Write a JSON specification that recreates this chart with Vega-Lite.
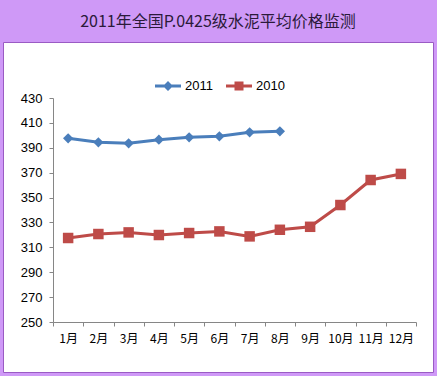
{
  "$schema": "https://vega.github.io/schema/vega-lite/v6.json",
  "width": 430,
  "height": 330,
  "padding": {"left": 3, "top": 14, "right": 4, "bottom": 4},
  "background": "#CF99F7",
  "title": {
    "text": "2011年全国P.0425级水泥平均价格监测",
    "font": "Noto Sans CJK SC",
    "fontSize": 16,
    "fontWeight": "normal",
    "color": "#2B1A3A",
    "anchor": "middle",
    "offset": 12
  },
  "config": {
    "view": {"fill": "white", "stroke": "#9A5BC4", "strokeWidth": 1}
  },
  "data": {
    "values": [
      {"month": "1月", "series": "2011", "price": 397.6},
      {"month": "2月", "series": "2011", "price": 394.4},
      {"month": "3月", "series": "2011", "price": 393.6},
      {"month": "4月", "series": "2011", "price": 396.5},
      {"month": "5月", "series": "2011", "price": 398.4},
      {"month": "6月", "series": "2011", "price": 399.2},
      {"month": "7月", "series": "2011", "price": 402.4},
      {"month": "8月", "series": "2011", "price": 403.2},
      {"month": "1月", "series": "2010", "price": 317.5},
      {"month": "2月", "series": "2010", "price": 320.7},
      {"month": "3月", "series": "2010", "price": 322.0},
      {"month": "4月", "series": "2010", "price": 319.9},
      {"month": "5月", "series": "2010", "price": 321.5},
      {"month": "6月", "series": "2010", "price": 322.8},
      {"month": "7月", "series": "2010", "price": 318.8},
      {"month": "8月", "series": "2010", "price": 324.1},
      {"month": "9月", "series": "2010", "price": 326.5},
      {"month": "10月", "series": "2010", "price": 344.0},
      {"month": "11月", "series": "2010", "price": 364.1},
      {"month": "12月", "series": "2010", "price": 369.0}
    ]
  },
  "encoding": {
    "x": {
      "field": "month",
      "type": "ordinal",
      "sort": ["1月","2月","3月","4月","5月","6月","7月","8月","9月","10月","11月","12月"],
      "scale": {"range": [50, 413], "paddingInner": 0, "paddingOuter": 0},
      "axis": {
        "title": null,
        "offset": -50,
        "labelAngle": 0,
        "tickBand": "extent",
        "tickSize": 4,
        "tickColor": "#868686",
        "domainColor": "#868686",
        "labelFont": "Noto Sans CJK SC",
        "labelFontSize": 12,
        "labelColor": "#000000",
        "labelPadding": 7,
        "grid": false
      }
    },
    "y": {
      "field": "price",
      "type": "quantitative",
      "scale": {"domain": [250, 430], "range": [280, 56], "nice": false, "zero": false},
      "axis": {
        "title": null,
        "offset": -50,
        "values": [250,270,290,310,330,350,370,390,410,430],
        "tickSize": 4,
        "tickColor": "#868686",
        "domainColor": "#868686",
        "labelFont": "Liberation Sans",
        "labelFontSize": 13,
        "labelColor": "#000000",
        "labelPadding": 7,
        "grid": false
      }
    },
    "color": {
      "field": "series",
      "type": "nominal",
      "sort": ["2011", "2010"],
      "scale": {"domain": ["2011", "2010"], "range": ["#4A7EBB", "#BE4B48"]},
      "legend": {
        "title": null,
        "orient": "none",
        "legendX": 155,
        "legendY": 34,
        "direction": "horizontal",
        "symbolSize": 400,
        "symbolOpacity": 1,
        "labelFont": "Liberation Sans",
        "labelFontSize": 13,
        "labelColor": "#000000",
        "labelOffset": 7,
        "columnPadding": 13,
        "encode": {
          "symbols": {
            "update": {
              "shape": {"signal": "datum.value === '2011' ? 'M-1.3,-0.15H1.3V0.15H-1.3Z M-0.5,0L0,-0.5L0.5,0L0,0.5Z' : 'M-1.3,-0.15H1.3V0.15H-1.3Z M-0.45,-0.45H0.45V0.45H-0.45Z'"},
              "fill": {"signal": "datum.value === '2011' ? '#4A7EBB' : '#BE4B48'"},
              "strokeWidth": {"value": 0}
            }
          }
        }
      }
    }
  },
  "layer": [
    {
      "mark": {"type": "line", "strokeWidth": 3}
    },
    {
      "transform": [{"filter": "datum.series === '2011'"}],
      "mark": {"type": "point", "shape": "diamond", "filled": true, "opacity": 1, "size": 105}
    },
    {
      "transform": [{"filter": "datum.series === '2010'"}],
      "mark": {"type": "point", "shape": "square", "filled": true, "opacity": 1, "size": 110}
    }
  ]
}
